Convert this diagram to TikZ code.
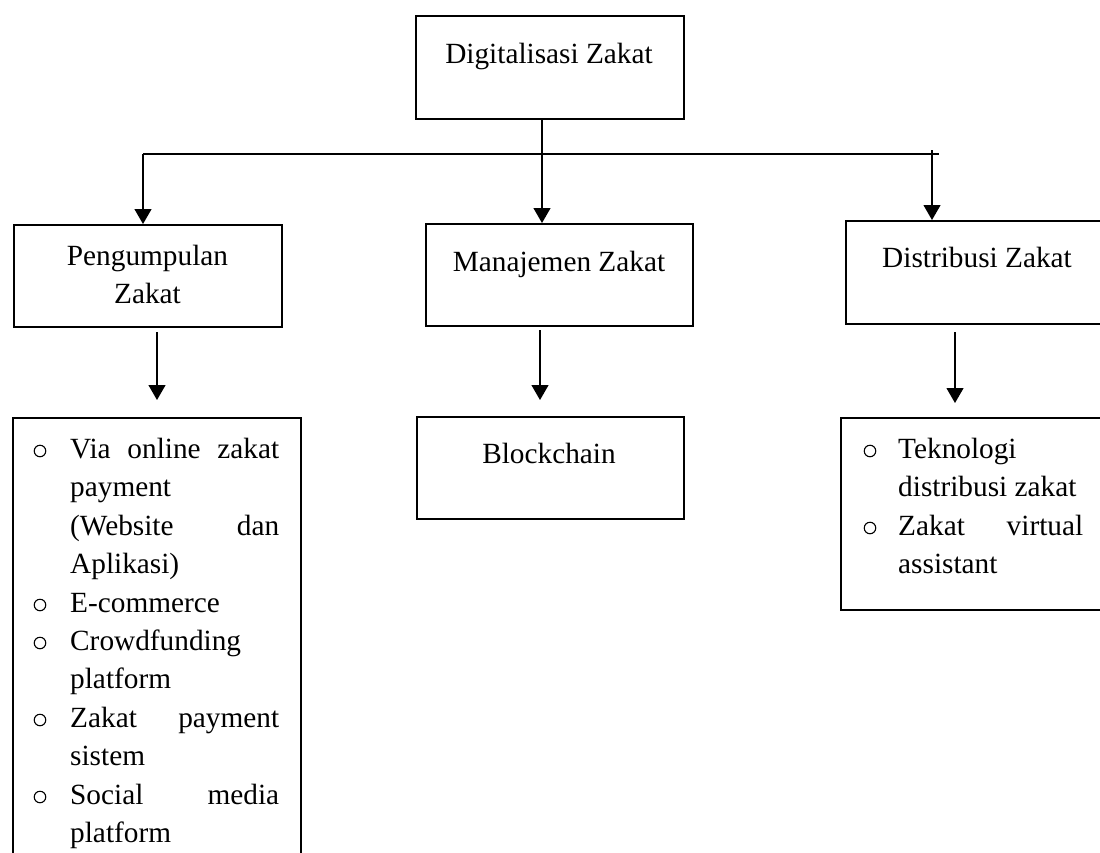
\documentclass[tikz,border=0pt]{standalone}
\usepackage{fontspec}
\setmainfont{Liberation Serif}
\usetikzlibrary{arrows.meta}
\begin{document}
\begin{tikzpicture}[x=1pt,y=-1pt,
  boxnode/.style={draw=black, line width=2pt, rectangle, inner sep=0pt, anchor=north west},
  txt/.style={inner sep=0pt, font=\fontsize{29.3}{35}\selectfont},
  bul/.style={draw=black, circle, line width=1.1pt, inner sep=0pt, minimum size=11.5pt},
  conn/.style={draw=black, line width=1.2pt},
  arr/.style={conn, -{Triangle[width=17pt,length=15pt]}}
]
\useasboundingbox (0,0) rectangle (1100,852);
\clip (0,0) rectangle (1100,852);
\fill[white] (0,0) rectangle (1100,852);

% boxes
\node[boxnode, minimum width=268pt, minimum height=103pt] (top) at (415,15) {};
\node[boxnode, minimum width=268pt, minimum height=102pt] (pk) at (13,224) {};
\node[boxnode, minimum width=267pt, minimum height=102pt] (mz) at (425,223) {};
\node[boxnode, minimum width=280pt, minimum height=103pt] (dz) at (845,220) {};
\node[boxnode, minimum width=288pt, minimum height=460pt] (lst) at (12,417) {};
\node[boxnode, minimum width=267pt, minimum height=102pt] (bc) at (416,416) {};
\node[boxnode, minimum width=280pt, minimum height=192pt] (rl) at (840,417) {};

% titles
\node[txt, anchor=base] (ttop) at (549,63) {Digitalisasi Zakat};
\node[txt, anchor=base] (tpk1) at (147.5,265) {Pengumpulan};
\node[txt, anchor=base] (tpk2) at (147.5,303) {Zakat};
\node[txt, anchor=base] (tmz) at (559,271) {Manajemen Zakat};
\node[txt, anchor=base] (tdz) at (977,267) {Distribusi Zakat};
\node[txt, anchor=base] (tbc) at (549,463) {Blockchain};

% left list
\node[bul] (b1) at (40,451) {};
\node[txt, anchor=base west] (l1) at (70,458) {\hbox to 209pt{Via\hfill online\hfill zakat}};
\node[txt, anchor=base west] (l2) at (70,496.5) {payment};
\node[txt, anchor=base west] (l3) at (70,535) {\hbox to 209pt{(Website\hfill dan}};
\node[txt, anchor=base west] (l4) at (70,573) {Aplikasi)};
\node[bul] (b2) at (40,605) {};
\node[txt, anchor=base west] (l5) at (70,612) {E-commerce};
\node[bul] (b3) at (40,643) {};
\node[txt, anchor=base west] (l6) at (70,650) {Crowdfunding};
\node[txt, anchor=base west] (l7) at (70,688) {platform};
\node[bul] (b4) at (40,720) {};
\node[txt, anchor=base west] (l8) at (70,727) {\hbox to 209pt{Zakat\hfill payment}};
\node[txt, anchor=base west] (l9) at (70,765) {sistem};
\node[bul] (b5) at (40,797) {};
\node[txt, anchor=base west] (l10) at (70,804) {\hbox to 209pt{Social\hfill media}};
\node[txt, anchor=base west] (l11) at (70,842) {platform};

% right list
\node[bul] (rb1) at (870,451) {};
\node[txt, anchor=base west] (r1) at (898,458) {Teknologi};
\node[txt, anchor=base west] (r2) at (898,496.5) {distribusi zakat};
\node[bul] (rb2) at (870,528) {};
\node[txt, anchor=base west] (r3) at (898,535) {\hbox to 185pt{Zakat\hfill virtual}};
\node[txt, anchor=base west] (r4) at (898,573) {assistant};

% connectors
\coordinate (barL) at (143,154);
\coordinate (barR) at (939,154);
\coordinate (xm) at (542,0);
\coordinate (rtop) at (932,150);
\coordinate (xl) at (157,0);
\coordinate (xc) at (540,0);
\coordinate (xr) at (955,0);

\draw[conn] (barL) -- (barR);
\draw[arr] (top.south -| xm) -- (mz.north -| xm);
\draw[arr] (barL) -- (pk.north -| barL);
\draw[arr] (rtop) -- (dz.north -| rtop);
\draw[arr, shorten <=4pt, shorten >=17pt] (pk.south -| xl) -- (lst.north -| xl);
\draw[arr, shorten <=3pt, shorten >=16pt] (mz.south -| xc) -- (bc.north -| xc);
\draw[arr, shorten <=7pt, shorten >=14pt] (dz.south -| xr) -- (rl.north -| xr);
\end{tikzpicture}
\end{document}
